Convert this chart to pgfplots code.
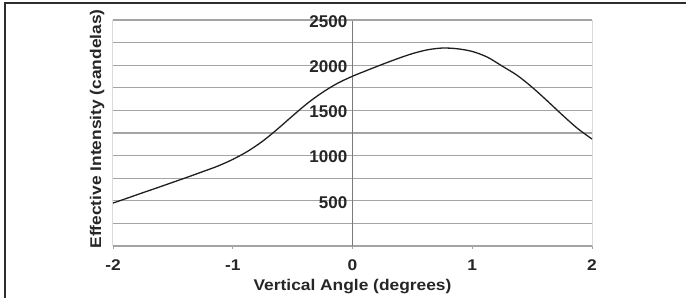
\documentclass[border=0pt]{standalone}
\usepackage{pgfplots}
\pgfplotsset{compat=1.18}
\usepackage{fontspec}
\setmainfont{Liberation Sans}
\newfontfamily\widefont[FakeStretch=1.12]{Liberation Sans}
\definecolor{gridc}{HTML}{A4A4A4}
\definecolor{lightc}{HTML}{DADADA}
\definecolor{axisc}{HTML}{7A7A7A}
\definecolor{framec}{HTML}{2E2E2E}
\begin{document}
\begin{tikzpicture}
\begin{axis}[
  scale only axis,
  width=479pt, height=226pt,
  xmin=-2, xmax=2, ymin=0, ymax=2500,
  axis x line=bottom, axis y line=center,
  axis line style={-},
  x axis line style={draw=gridc, line width=1.2pt},
  y axis line style={draw=axisc, line width=1.2pt},
  xtick={-2,-1,0,1,2},
  xticklabels={-2,-1,0,1,2},
  ytick={500,1000,1500,2000},
  minor ytick={250,750,1250,1750,2250},
  extra y ticks={2500},
  extra y tick style={grid style={draw=lightc, line width=1.2pt}},
  ymajorgrids, yminorgrids,
  major grid style={draw=gridc, line width=1.2pt},
  minor grid style={draw=gridc, line width=1.2pt},
  ytick style={draw=none},
  minor tick length=0pt,
  xtick style={draw=gridc, line width=0.8pt},
  tick align=outside,
  major tick length=3pt,
  /pgf/number format/assume math mode=true,
  /pgf/number format/set thousands separator={},
  yticklabel style={font=\fontsize{17}{20}\selectfont\bfseries, text=black!85, inner sep=1pt, xshift=-1pt, yshift=-1.5pt},
  xticklabel style={font=\widefont\fontsize{15.5}{18}\selectfont\bfseries, text=black!85, anchor=base, yshift=-21pt},
  label style={font=\widefont\fontsize{15.5}{18}\selectfont\bfseries, text=black!85},
  xlabel={Vertical Angle (degrees)},
  xlabel style={at={(rel axis cs:0.5,-0.1978)}, anchor=base},
  ylabel={Effective Intensity (candelas)},
  ylabel style={at={(rel axis cs:-0.0334,0.518)}, anchor=center, rotate=90},
  clip=false,
]
\draw[draw=lightc, line width=1pt] (rel axis cs:0,0) -- (rel axis cs:0,1);
\draw[draw=lightc, line width=1pt] (rel axis cs:1,0) -- (rel axis cs:1,1);
\addplot[black!88, line width=1.3pt, smooth, tension=0.5] table {
x y
-2.000 475
-1.875 532
-1.750 590
-1.625 647
-1.500 705
-1.375 763
-1.250 823
-1.125 884
-1.000 958
-0.875 1048
-0.750 1160
-0.625 1295
-0.500 1440
-0.375 1580
-0.250 1700
-0.125 1800
0.000 1878
0.125 1945
0.250 2010
0.375 2072
0.500 2128
0.625 2170
0.750 2190
0.875 2182
1.000 2152
1.125 2090
1.250 1990
1.375 1888
1.500 1756
1.625 1607
1.750 1452
1.875 1305
2.000 1183
};
\draw[draw=framec, line width=2.4pt] (rel axis cs:-0.2255,-0.4) -- (rel axis cs:-0.2255,1.0765) -- (rel axis cs:1.4,1.0765);
\coordinate (bl) at (rel axis cs:-0.2359,-0.2257);
\coordinate (tr) at (rel axis cs:1.1962,1.0885);
\end{axis}
\pgfresetboundingbox
\path[use as bounding box] (bl) rectangle (tr);
\end{tikzpicture}
\end{document}
